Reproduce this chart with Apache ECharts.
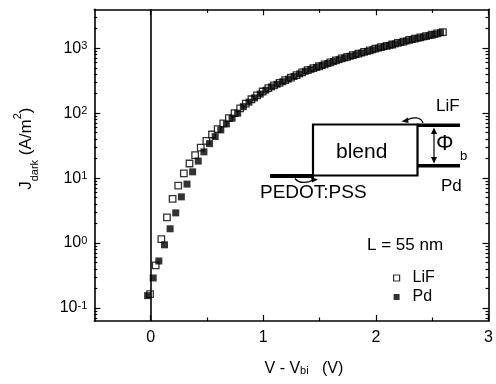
<!DOCTYPE html>
<html>
<head>
<meta charset="utf-8">
<script src="https://cdn.jsdelivr.net/npm/echarts@6/dist/echarts.min.js"></script>
<style>html,body{margin:0;padding:0;background:#fff}#c{width:496px;height:384px}</style>
</head>
<body>
<div id="c"></div>
<script>
// ---- data ----
var lifV = [-0.005,0.045,0.095,0.145,0.195,0.245,0.295,0.345,0.395,0.445,0.495,0.545,0.595,0.645,0.695,0.745,0.795,0.845,0.895,0.945,0.995,1.045,1.095,1.145,1.195,1.245,1.295,1.345,1.395,1.445,1.495,1.545,1.595,1.645,1.695,1.745,1.795,1.845,1.895,1.945,1.995,2.045,2.095,2.145,2.195,2.245,2.295,2.345,2.395,2.445,2.495,2.545,2.595];
var lifJ = [0.164,0.452,1.15,2.49,4.79,7.67,11.8,16.8,22.6,29.6,37.5,47,56.8,69.5,84,100,119,140,164,188,216,244,268,294,322,353,387,424,459,493,528,566,607,650,697,738,782,828,877,929,984,1042,1091,1143,1211,1268,1343,1406,1472,1542,1614,1690,1770];
var pdV = [-0.027,0.023,0.073,0.123,0.173,0.223,0.273,0.323,0.373,0.423,0.473,0.523,0.573,0.623,0.673,0.723,0.773,0.823,0.873,0.923,0.973,1.023,1.073,1.123,1.173,1.223,1.273,1.323,1.373,1.423,1.473,1.523,1.573,1.623,1.673,1.723,1.773,1.823,1.873,1.923,1.973,2.023,2.073,2.123,2.173,2.223,2.273,2.323,2.373,2.423,2.473,2.523,2.573];
var pdJ = [0.155,0.29,0.53,0.94,1.66,2.92,5.15,8.1,12.5,18.3,25.4,34,43.6,55.3,68.4,83.8,100,126,148,172,197,226,254,279,305,335,367,403,442,473,507,543,582,624,668,711,753,798,845,895,948,1005,1059,1109,1169,1230,1297,1365,1429,1496,1567,1641,1738];
var xMajorTicks = [0,1,2,3];
var xMinorTicks = [0.5,1.5,2.5];
var yDecades = [0.1,1,10,100,1000];
var yMinor = [0.07,0.08,0.09,0.2,0.3,0.4,0.5,0.6,0.7,0.8,0.9,2,3,4,5,6,7,8,9,20,30,40,50,60,70,80,90,200,300,400,500,600,700,800,900,2000,3000];
var seriesNames = ['LiF','Pd'];
var xMin = -0.5, xMax = 3, yMin = 0.0631, yMax = 3981;

var FONT = '"Liberation Sans", Arial, Helvetica, sans-serif';
var chart = echarts.init(document.getElementById('c'), null, {renderer:'canvas'});

function pairs(xs, ys){ return xs.map(function(x,i){return [x, ys[i]];}); }

function xAx(pos, ticks, len, showLine, extra){
  var o = {type:'value', position:pos, min:xMin, max:xMax, interval:0.5,
    axisLine:{show:showLine, onZero:false, lineStyle:{color:'#000', width:1.6}},
    axisTick:{show:true, inside:true, length:len, customValues:ticks, lineStyle:{color:'#000', width:1.2}},
    axisLabel:{show:false}, splitLine:{show:false}};
  for (var k in extra) o[k] = extra[k];
  return o;
}
function yAx(pos, ticks, len, showLine, extra){
  var o = {type:'log', logBase:10, position:pos, min:yMin, max:yMax,
    axisLine:{show:showLine, onZero:false, lineStyle:{color:'#000', width:1.6}},
    axisTick:{show:true, inside:true, length:len, customValues:ticks, lineStyle:{color:'#000', width:1.2}},
    axisLabel:{show:false}, splitLine:{show:false}, minorTick:{show:false}};
  for (var k in extra) o[k] = extra[k];
  return o;
}

var option = {
  animation:false,
  backgroundColor:'#fff',
  grid:{left:94.3, right:7, top:9.3, bottom:63, containLabel:false},
  xAxis:[
    xAx('bottom', xMinorTicks, 3.5, true, {
      axisLabel:{show:true, customValues:xMajorTicks, margin:9, color:'#000', fontSize:16, fontFamily:FONT},
      name:'{n|V - V}{sub|bi}{n|   (V)}', nameLocation:'middle', nameGap:37,
      nameTextStyle:{padding:[0,0,0,25], rich:{
        n:{fontSize:16, fontFamily:FONT, color:'#000', lineHeight:16, verticalAlign:'top'},
        sub:{fontSize:11, fontFamily:FONT, color:'#000', lineHeight:11, verticalAlign:'bottom', padding:[15,0,0,0]}
      }}
    }),
    xAx('bottom', xMajorTicks, 6, false, {}),
    xAx('top', xMinorTicks, 3.5, true, {}),
    xAx('top', xMajorTicks, 6, false, {})
  ],
  yAxis:[
    yAx('left', yDecades, 6, true, {
      axisLabel:{show:true, customValues:yDecades, margin:7, formatter:function(v){
        var e = Math.round(Math.log(v)/Math.LN10);
        return '{b|10}{s|' + e + '}';
      }, rich:{
        b:{fontSize:16, fontFamily:FONT, color:'#000', lineHeight:16, verticalAlign:'bottom'},
        s:{fontSize:11, fontFamily:FONT, color:'#000', lineHeight:11, verticalAlign:'top'}
      }},
      name:'{m|J}{sub|dark}{m| (A/m}{sup|2}{m|)}', nameLocation:'middle', nameGap:54,
      nameTextStyle:{padding:[0,0,0,33], rich:{
        m:{fontSize:17, fontFamily:FONT, color:'#000', lineHeight:28, verticalAlign:'middle'},
        sub:{fontSize:11, fontFamily:FONT, color:'#000', lineHeight:11, verticalAlign:'bottom'},
        sup:{fontSize:11, fontFamily:FONT, color:'#000', lineHeight:11, verticalAlign:'top'}
      }}
    }),
    yAx('left', yMinor, 3, false, {}),
    yAx('right', yDecades, 6, true, {}),
    yAx('right', yMinor, 3, false, {})
  ],
  legend:{
    data:[{name:seriesNames[0], itemStyle:{color:'#fff', borderColor:'#000', borderWidth:1.2}},
          {name:seriesNames[1], itemStyle:{color:'#000', borderWidth:0}}],
    orient:'vertical', left:388, top:265, itemWidth:6, itemHeight:6, itemGap:3,
    icon:'rect', selectedMode:false,
    textStyle:{fontSize:16, fontFamily:FONT, color:'#000', lineHeight:16, padding:[0,0,0,8]}
  },
  series:[
    {name:seriesNames[0], type:'scatter', symbol:'rect', symbolSize:6.5, data:pairs(lifV, lifJ), z:3,
     itemStyle:{color:'#fff', borderColor:'#000', borderWidth:1.3},
     markLine:{silent:true, symbol:'none', label:{show:false}, animation:false,
       lineStyle:{color:'#000', type:'solid', width:1.6}, data:[{xAxis:0}]}},
    {name:seriesNames[1], type:'scatter', symbol:'rect', symbolSize:7, data:pairs(pdV, pdJ), z:4,
     itemStyle:{color:'#000', borderColor:'#000', borderWidth:0}}
  ],
  graphic:[
    {type:'text', x:405, y:245, style:{text:'L = 55 nm', fontSize:17, fontFamily:FONT, fill:'#000', align:'center', verticalAlign:'middle', textAlign:'center', textVerticalAlign:'middle'}},
    // inset diagram
    {type:'rect', shape:{x:313, y:124.5, width:104.5, height:51}, style:{fill:'#fff', stroke:'#000', lineWidth:2.2}, z:10},
    {type:'line', shape:{x1:270, y1:176, x2:314, y2:176}, style:{stroke:'#000', lineWidth:4}, z:11},
    {type:'line', shape:{x1:417, y1:125.2, x2:460, y2:125.2}, style:{stroke:'#000', lineWidth:3.5}, z:11},
    {type:'line', shape:{x1:417, y1:165.7, x2:460, y2:165.7}, style:{stroke:'#000', lineWidth:3.5}, z:11},
    {type:'line', shape:{x1:434, y1:130, x2:434, y2:161}, style:{stroke:'#000', lineWidth:1.2}, z:11},
    {type:'polygon', shape:{points:[[434,127.5],[431,134],[437,134]]}, style:{fill:'#000'}, z:11},
    {type:'polygon', shape:{points:[[434,163.5],[431,157],[437,157]]}, style:{fill:'#000'}, z:11},
    {type:'bezierCurve', shape:{x1:295, y1:178.5, cpx1:299, cpy1:184, cpx2:308, cpy2:183, x2:313, y2:180}, style:{stroke:'#000', lineWidth:1.3, fill:null}, z:11},
    {type:'polygon', shape:{points:[[318,179.5],[311,177],[312,182.5]]}, style:{fill:'#000'}, z:11},
    {type:'bezierCurve', shape:{x1:423, y1:123, cpx1:421, cpy1:117, cpx2:413, cpy2:116.5, x2:407, y2:120}, style:{stroke:'#000', lineWidth:1.3, fill:null}, z:11},
    {type:'polygon', shape:{points:[[401.5,121.5],[408,117.5],[408.5,123]]}, style:{fill:'#000'}, z:11},
    {type:'text', left:336, top:142, style:{text:'blend', fontSize:21, fontFamily:FONT, fill:'#000'}, z:12},
    {type:'text', left:260, top:183, style:{text:'PEDOT:PSS', fontSize:19, fontFamily:FONT, fill:'#000'}, z:12},
    {type:'text', left:436, top:98, style:{text:'LiF', fontSize:17, fontFamily:FONT, fill:'#000'}, z:12},
    {type:'text', left:441, top:178, style:{text:'Pd', fontSize:17, fontFamily:FONT, fill:'#000'}, z:12},
    {type:'text', left:436, top:133, style:{text:'Φ', fontSize:22, fontFamily:FONT, fill:'#000'}, z:12},
    {type:'text', left:460, top:150, style:{text:'b', fontSize:13, fontFamily:FONT, fill:'#000'}, z:12}
  ]
};
chart.setOption(option);
</script>
</body>
</html>
